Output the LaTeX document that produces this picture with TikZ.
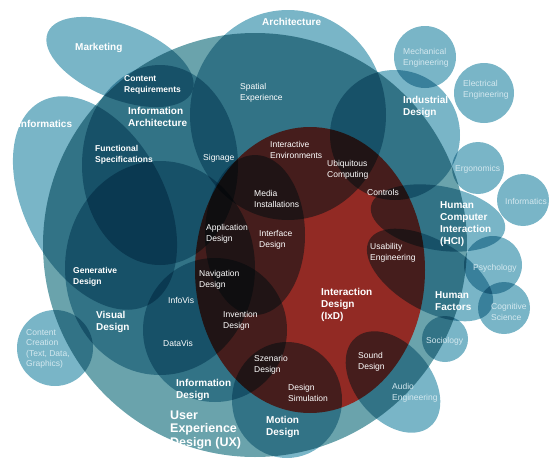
\documentclass[tikz,border=0pt]{standalone}
\usepackage{fontspec}
\setmainfont{Liberation Sans}
\setsansfont{Liberation Sans}
\RequirePackage{xcolor}
\tikzset{every picture/.style={/utils/exec={\sffamily}}}
\usetikzlibrary{calc}
\usetikzlibrary{positioning}

\definecolor{uxteal}{RGB}{106,163,172}
\definecolor{discteal}{RGB}{121,181,199}
\definecolor{ixdred}{RGB}{146,42,36}
\definecolor{paletext}{RGB}{212,232,239}

\tikzset{
  disc/.style={fill=discteal},
  lbl/.style={text=white, anchor=west, align=left, inner sep=0pt, font=\fontsize{8.5}{10.5}\selectfont},
  sub/.style={lbl, font=\fontsize{8.5}{10.5}\selectfont\bfseries},
  head/.style={lbl, font=\fontsize{10}{12}\selectfont\bfseries},
  pale/.style={lbl, text=paletext}
}

\begin{document}
\begin{tikzpicture}[x=1pt, y=-1pt]
  \useasboundingbox (0,0) rectangle (549,463);

  \fill [uxteal] (255,245) circle [radius=212pt];
  \fill [ixdred] (310,270) ellipse [x radius=115pt, y radius=143pt];

  \begin{scope}[blend mode=multiply]
    \fill [disc] (120,62) ellipse [x radius=78pt, y radius=37pt, rotate=-22];
    \fill [disc] (95,203) ellipse [x radius=115pt, y radius=70pt, rotate=-62];
    \fill [disc] (288,115) ellipse [x radius=98pt, y radius=105pt];
    \fill [disc] (160,165) ellipse [x radius=78pt, y radius=100pt];
    \fill [disc] (160,268) ellipse [x radius=95pt, y radius=107pt];
    \fill [disc] (215,330) circle [radius=72pt];
    \fill [disc] (287,400) ellipse [x radius=55pt, y radius=58pt];
    \fill [disc] (255,235) ellipse [x radius=50pt, y radius=80pt];
    \fill [disc] (395,135) circle [radius=65pt];
    \fill [disc] (425,57) circle [radius=31pt];
    \fill [disc] (484,93) circle [radius=30pt];
    \fill [disc] (438,218) ellipse [x radius=68pt, y radius=32pt, rotate=-10];
    \fill [disc] (430,275) ellipse [x radius=70pt, y radius=35pt, rotate=-30];
    \fill [disc] (478,168) circle [radius=26pt];
    \fill [disc] (523,200) circle [radius=26pt];
    \fill [disc] (493,265) circle [radius=29pt];
    \fill [disc] (504,308) circle [radius=26pt];
    \fill [disc] (445,339) circle [radius=23pt];
    \fill [disc] (393,382) ellipse [x radius=58pt, y radius=38pt, rotate=-50];
    \fill [disc] (55,348) circle [radius=38pt];
  \end{scope}

  \node [head] (mkt) at (75,48) {Marketing};
  \node [head] (arch) at (262,22) {Architecture};
  \node [head] (infl) at (18,124) {Informatics};
  \node [sub] (creq) at (124,85) {Content\\Requirements};
  \node [head] (ia) at (128,117) {Information\\Architecture};
  \node [lbl] (spx) at (240,93) {Spatial\\Experience};
  \node [sub] (fspec) at (95,155) {Functional\\Specifications};
  \node [lbl] (sign) at (203,158) {Signage};
  \node [lbl] (ienv) at (270,150) {Interactive\\Environments};
  \node [lbl] (media) at (254,199) {Media\\Installations};
  \node [lbl] (ubi) at (327,170) {Ubiquitous\\Computing};
  \node [lbl] (ctrl) at (367,192) {Controls};
  \node [pale] (mech) at (403,58) {Mechanical\\Engineering};
  \node [pale] (elec) at (463,90) {Electrical\\Engineering};
  \node [head] (ind) at (403,107) {Industrial\\Design};
  \node [pale] (ergo) at (455,169) {Ergonomics};
  \node [pale] (infr) at (505,201) {Informatics};
  \node [head] (hci) at (440,224) {Human\\Computer\\Interaction\\(HCI)};
  \node [lbl] (app) at (206,234) {Application\\Design};
  \node [lbl] (intf) at (259,240) {Interface\\Design};
  \node [lbl] (usab) at (370,253) {Usability\\Engineering};
  \node [sub] (gen) at (73,277) {Generative\\Design};
  \node [lbl] (nav) at (199,280) {Navigation\\Design};
  \node [lbl] (ivis) at (168,300) {InfoVis};
  \node [head] (vis) at (96,322) {Visual\\Design};
  \node [lbl] (inv) at (223,321) {Invention\\Design};
  \node [head] (ixd) at (321,305) {Interaction\\Design\\(IxD)};
  \node [head] (hf) at (435,301) {Human\\Factors};
  \node [pale] (psy) at (473,268) {Psychology};
  \node [pale] (cog) at (491,312) {Cognitive\\Science};
  \node [pale] (soc) at (426,341) {Sociology};
  \node [pale] (cont) at (26,349) {Content\\Creation\\(Text, Data,\\Graphics)};
  \node [lbl] (dvis) at (163,343) {DataVis};
  \node [lbl] (szen) at (254,365) {Szenario\\Design};
  \node [lbl] (sound) at (358,362) {Sound\\Design};
  \node [head] (infd) at (176,390) {Information\\Design};
  \node [lbl] (dsim) at (288,393) {Design\\Simulation};
  \node [pale] (audio) at (392,393) {Audio\\Engineering};
  \node [head, font=\fontsize{12.5}{13.5}\selectfont\bfseries] (ux) at (170,430) {User\\Experience\\Design (UX)};
  \node [head] (mot) at (266,427) {Motion\\Design};
\end{tikzpicture}
\end{document}
